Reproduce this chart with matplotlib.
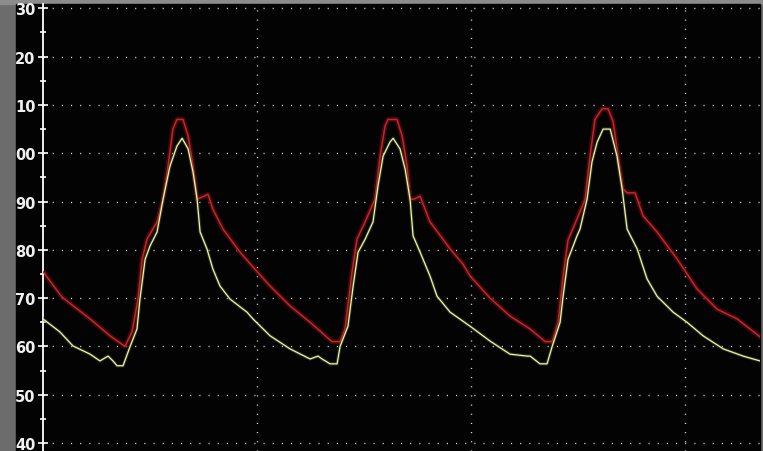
import numpy as np
import matplotlib
matplotlib.use("Agg")
import matplotlib.pyplot as plt
from matplotlib.patches import Rectangle

tempo_vermelho = [0.000, 0.089, 0.220, 0.313, 0.383, 0.416, 0.444, 0.463, 0.486, 0.533,
                  0.561, 0.584, 0.607, 0.626, 0.654, 0.678, 0.701, 0.720, 0.748, 0.771,
                  0.794, 0.841, 0.921, 1.000, 1.061, 1.154, 1.248, 1.350, 1.388, 1.411,
                  1.444, 1.467, 1.505, 1.551, 1.575, 1.598, 1.612, 1.654, 1.678, 1.701,
                  1.715, 1.734, 1.762, 1.808, 1.869, 1.902, 1.963, 1.995, 2.089, 2.182,
                  2.276, 2.346, 2.379, 2.407, 2.430, 2.453, 2.495, 2.533, 2.556, 2.579,
                  2.612, 2.640, 2.664, 2.687, 2.710, 2.729, 2.766, 2.804, 2.869, 2.963,
                  3.056, 3.150, 3.243, 3.350]
valores_vermelho = [75.5, 70.2, 65.7, 62.2, 60.0, 63.0, 69.8, 78.0, 82.2, 85.8,
                    90.5, 97.3, 105.0, 107.0, 107.0, 103.6, 97.3, 90.5, 91.0, 91.5,
                    88.4, 84.3, 79.5, 75.5, 72.5, 68.4, 65.0, 61.0, 61.0, 63.6,
                    75.4, 82.2, 85.8, 90.5, 99.4, 105.6, 107.0, 107.0, 103.6, 97.3,
                    90.5, 90.5, 91.1, 85.8, 82.2, 80.2, 77.0, 74.6, 70.0, 66.3,
                    63.6, 61.0, 61.0, 65.0, 74.5, 82.0, 86.4, 90.5, 99.4, 107.0,
                    109.2, 109.2, 106.5, 99.4, 92.6, 91.8, 91.8, 87.0, 83.7, 78.1,
                    71.9, 67.7, 65.7, 62.0]

# Tempo e valores do traçado amarelo
tempo_amarelo = [0.000, 0.079, 0.140, 0.220, 0.266, 0.304, 0.327, 0.346, 0.374, 0.407,
                 0.439, 0.453, 0.477, 0.500, 0.533, 0.561, 0.593, 0.626, 0.650, 0.678,
                 0.701, 0.720, 0.734, 0.766, 0.794, 0.827, 0.874, 0.953, 0.981, 1.061,
                 1.154, 1.248, 1.285, 1.304, 1.341, 1.374, 1.388, 1.425, 1.449, 1.472,
                 1.505, 1.542, 1.565, 1.589, 1.621, 1.636, 1.668, 1.692, 1.715, 1.729,
                 1.762, 1.808, 1.841, 1.902, 1.995, 2.089, 2.182, 2.262, 2.276, 2.322,
                 2.355, 2.379, 2.416, 2.430, 2.453, 2.495, 2.509, 2.542, 2.565, 2.589,
                 2.617, 2.650, 2.682, 2.706, 2.729, 2.776, 2.822, 2.869, 2.944, 3.009,
                 3.084, 3.178, 3.271, 3.350]
valores_amarelo = [65.7, 63.0, 60.1, 58.4, 57.0, 58.0, 57.0, 56.0, 56.0, 60.0,
                   63.6, 69.8, 78.0, 80.8, 83.7, 90.5, 97.3, 101.5, 103.1, 100.9,
                   96.1, 90.5, 83.7, 80.2, 76.0, 72.5, 69.8, 67.1, 65.7, 62.2,
                   59.5, 57.4, 58.0, 57.4, 56.4, 56.4, 60.0, 64.2, 72.5, 79.5,
                   82.2, 85.8, 93.2, 99.4, 102.3, 103.1, 100.9, 96.7, 90.5, 82.9,
                   79.5, 74.6, 70.4, 67.1, 64.2, 61.1, 58.4, 58.0, 58.0, 56.4,
                   56.4, 60.0, 65.0, 70.4, 78.0, 82.9, 84.3, 90.5, 98.2, 102.3,
                   105.0, 105.0, 99.4, 92.6, 84.3, 80.2, 74.0, 70.4, 67.1, 65.0,
                   62.2, 59.5, 58.0, 57.0]

# Rótulos do eixo y como aparecem na tela (só os dois últimos dígitos)
ticks_y = [40, 50, 60, 70, 80, 90, 100, 110, 120, 130]
rotulos_y = ["40", "50", "60", "70", "80", "90", "00", "10", "20", "30"]
ticks_x = [1, 2, 3]


def grafico_monitor():
    largura, altura = 763, 452
    fig = plt.figure(figsize=(largura / 100, altura / 100), dpi=100)
    fig.patch.set_facecolor("#6c6c6c")

    # faixa superior um pouco mais clara
    fig.patches.append(Rectangle((0, (altura - 5) / altura), 1, 5 / altura,
                                 transform=fig.transFigure, color="#8c8c8c", zorder=-2))
    # fundo preto da tela
    fig.patches.append(Rectangle((16 / largura, 0), (760 - 16) / largura, (altura - 5) / altura,
                                 transform=fig.transFigure, color="#030303", zorder=-1))

    ax = fig.add_axes([43 / largura, 0, (760 - 43) / largura, (altura - 5) / altura])
    ax.set_facecolor("#030303")
    ax.set_xlim(0, 3.35)
    ax.set_ylim(38.35, 130.9)

    # grade pontilhada
    for y in ticks_y:
        ax.axhline(y, color="#d8d8d8", lw=1.0, dashes=(0.8, 5.8), zorder=1)
    for x in ticks_x:
        ax.axvline(x, color="#d8d8d8", lw=1.0, dashes=(0.8, 5.8), zorder=1)

    # brilho + traçados
    ax.plot(tempo_vermelho, valores_vermelho, color="#5a0c0c", lw=3.5, alpha=0.7, zorder=2)
    ax.plot(tempo_vermelho, valores_vermelho, color="#c4242c", lw=1.1, zorder=3)
    ax.plot(tempo_amarelo, valores_amarelo, color="#4a5a30", lw=2.4, alpha=0.5, zorder=4)
    ax.plot(tempo_amarelo, valores_amarelo, color="#f2f2a8", lw=0.9, zorder=5)

    for lado in ["top", "right", "bottom"]:
        ax.spines[lado].set_visible(False)
    ax.spines["left"].set_color("white")
    ax.spines["left"].set_linewidth(1.3)

    ax.set_yticks(ticks_y)
    ax.set_yticklabels(rotulos_y)
    ax.set_yticks(np.arange(45, 130, 10), minor=True)
    ax.tick_params(axis="y", which="major", direction="inout", length=7, width=1.2,
                   colors="white", pad=2, labelsize=10.5)
    ax.tick_params(axis="y", which="minor", direction="inout", length=5, width=1.2, colors="white")
    for rotulo in ax.get_yticklabels():
        rotulo.set_fontweight("bold")
        rotulo.set_color("#f0f0f0")
    ax.set_xticks([])

    fig.savefig("out.png", dpi=100, facecolor=fig.get_facecolor())


grafico_monitor()
